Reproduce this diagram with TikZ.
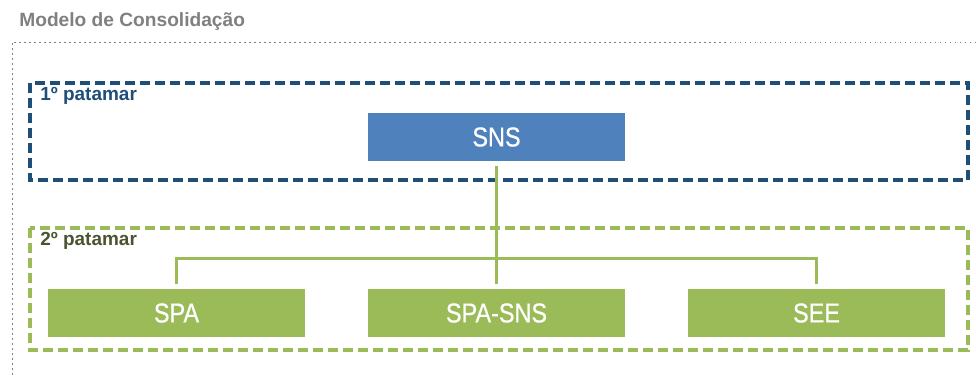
\documentclass[tikz,border=0pt]{standalone}
\usepackage{fontspec}
\setmainfont{Liberation Sans}
\newfontfamily\narrowfont{Liberation Sans}[FakeStretch=0.86, FakeBold=0.6]
\usetikzlibrary{positioning}
\definecolor{tierblue}{HTML}{1F4E79}
\definecolor{boxblue}{HTML}{4F81BD}
\definecolor{boxgreen}{HTML}{9BBB59}
\definecolor{titlegray}{HTML}{808080}
\definecolor{greenlabel}{HTML}{4A5530}

\begin{document}
\begin{tikzpicture}[
	tier/.style={line width=0.08cm, dash pattern=on 0.2cm off 0.1cm},
	entity/.style={minimum width=5.14cm, minimum height=0.96cm, inner sep=0pt, text=white, font=\narrowfont\fontsize{15.5pt}{18pt}\selectfont},
	tierlabel/.style={anchor=west, inner sep=0pt, font=\bfseries\fontsize{10.8pt}{12pt}\selectfont},
	link/.style={boxgreen, line width=0.06cm}
	]
	\useasboundingbox (0,0) rectangle (19.52,-7.52);
	\node[anchor=west, inner sep=0pt, text=titlegray, font=\bfseries\fontsize{10.9pt}{12pt}\selectfont] (title) at (0.38,-0.44) {Modelo de Consolidação};
	\draw[titlegray, line width=0.02cm, dash pattern=on 0.03cm off 0.07cm] (19.52,-0.84) -- (0.24,-0.84) -- (0.24,-7.52);
	% 1o patamar
	\draw[tier, tierblue] (0.6,-1.66) rectangle (19.36,-3.6);
	\node[tierlabel, text=tierblue] (tier1) at (0.8,-1.92) {1º patamar};
	\node[entity, fill=boxblue] (sns) at (9.93,-2.74) {SNS};
	% 2o patamar
	\draw[tier, boxgreen] (0.6,-4.56) rectangle (19.36,-7.0);
	\node[tierlabel, text=greenlabel] (tier2) at (0.8,-4.82) {2º patamar};
	\node[entity, fill=boxgreen] (spasns) at (9.93,-6.26) {SPA-SNS};
	\node[entity, fill=boxgreen] (spa) at (3.53,-6.26) {SPA};
	\node[entity, fill=boxgreen] (see) at (16.33,-6.26) {SEE};
	\coordinate (bus) at (9.93,-5.16);
	\draw[link, shorten <=0.1cm, shorten >=0.1cm] (sns) -- (spasns);
	\draw[link, shorten <=0.1cm] (spa.north) |- (bus);
	\draw[link, shorten <=0.1cm] (see.north) |- (bus);
\end{tikzpicture}
\end{document}
